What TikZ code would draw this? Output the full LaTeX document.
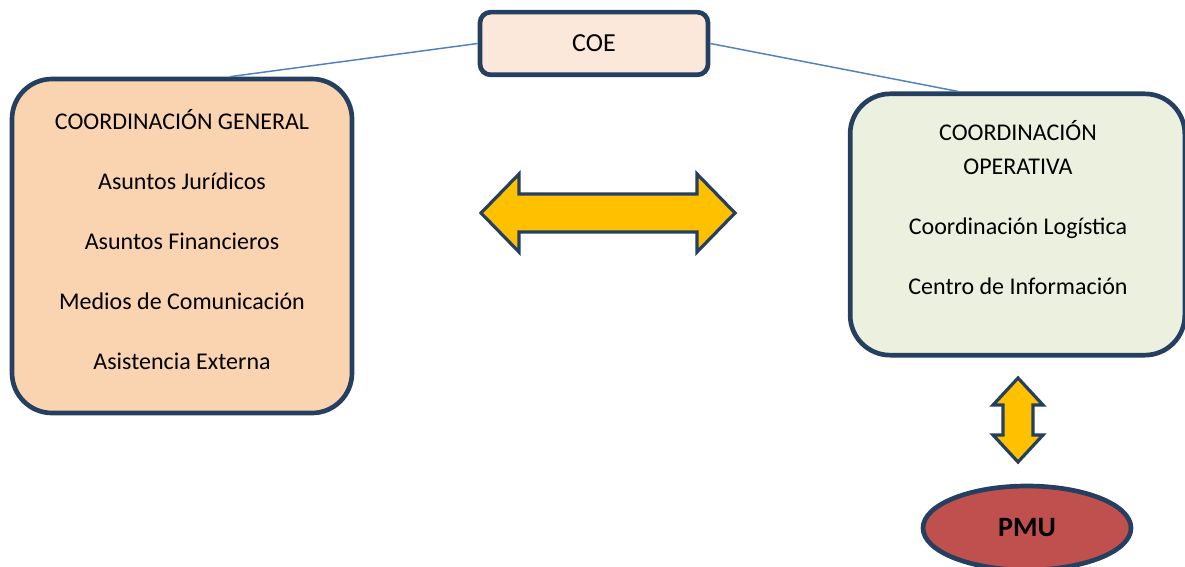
\documentclass[tikz,border=0pt]{standalone}
\usepackage{fontspec}
\setmainfont{Carlito}
\usepackage{tikz}
\usetikzlibrary{positioning}
\usetikzlibrary{shapes}
\usetikzlibrary{calc}

\definecolor{borde}{HTML}{243F60}
\definecolor{coefill}{HTML}{FCE8DA}
\definecolor{genfill}{HTML}{FAD3B0}
\definecolor{opfill}{HTML}{EBF1DE}
\definecolor{flecha}{HTML}{FFC000}
\definecolor{linea}{HTML}{4F81BD}
\definecolor{pmufill}{HTML}{C0504D}

\begin{document}
\begin{tikzpicture}[x=0.75pt,y=-0.75pt]
\tikzstyle{caja}=[draw=borde, line width=3.5pt, rounded corners=30pt, inner sep=0pt]
\tikzstyle{texto}=[align=center, font=\fontsize{18}{45}\selectfont]
\tikzstyle{bloque}=[draw=borde, fill=flecha, line width=2.4pt, line join=miter]
\useasboundingbox (0,0) rectangle (1185,567);

\node[caja, rounded corners=8pt, fill=coefill, minimum width=171pt, minimum height=47pt,
  font=\fontsize{19.5}{24}\selectfont] (coe) at (594,43.5) {COE};
\node[caja, fill=genfill, minimum width=255pt, minimum height=250.5pt] (gen) at (182,246) {};
\node[caja, fill=opfill, minimum width=251pt, minimum height=196pt] (op) at (1017.5,224.5) {};

\node[texto] (gentxt) at (182,239.5) {COORDINACIÓN GENERAL\\Asuntos Jurídicos\\Asuntos Financieros\\Medios de Comunicación\\Asistencia Externa};
\node[texto, font=\fontsize{18}{25.5}\selectfont] (optxt) at (1018,208) {COORDINACIÓN\\OPERATIVA\\[19.5pt]Coordinación Logística\\[19.5pt]Centro de Información};

\node[ellipse, draw=borde, line width=3.5pt, fill=pmufill, minimum width=156pt, minimum height=63pt,
  inner sep=0pt, font=\fontsize{21}{24}\selectfont\bfseries] (pmu) at (1027,528) {PMU};

\draw[linea, line width=1.1pt] (coe.west) -- ($(gen.north)+(48,0)$);
\draw[linea, line width=1.1pt] (coe.east) -- ($(op.north)+(-59,0)$);

% flechas dobles
\coordinate (h) at (607,213);
\coordinate (v) at (1018,420);
\draw[bloque] ($(h)+(-126,0)$) -- ++(38,-39) -- ++(0,20) -- ++(178,0) -- ++(0,-20)
  -- ++(38,39) -- ++(-38,39) -- ++(0,-20) -- ++(-178,0) -- ++(0,20) -- cycle;
\draw[bloque] ($(v)+(0,-42)$) -- ++(25,27) -- ++(-10,0) -- ++(0,30) -- ++(10,0)
  -- ++(-25,27) -- ++(-25,-27) -- ++(10,0) -- ++(0,-30) -- ++(-10,0) -- cycle;
\end{tikzpicture}
\end{document}
